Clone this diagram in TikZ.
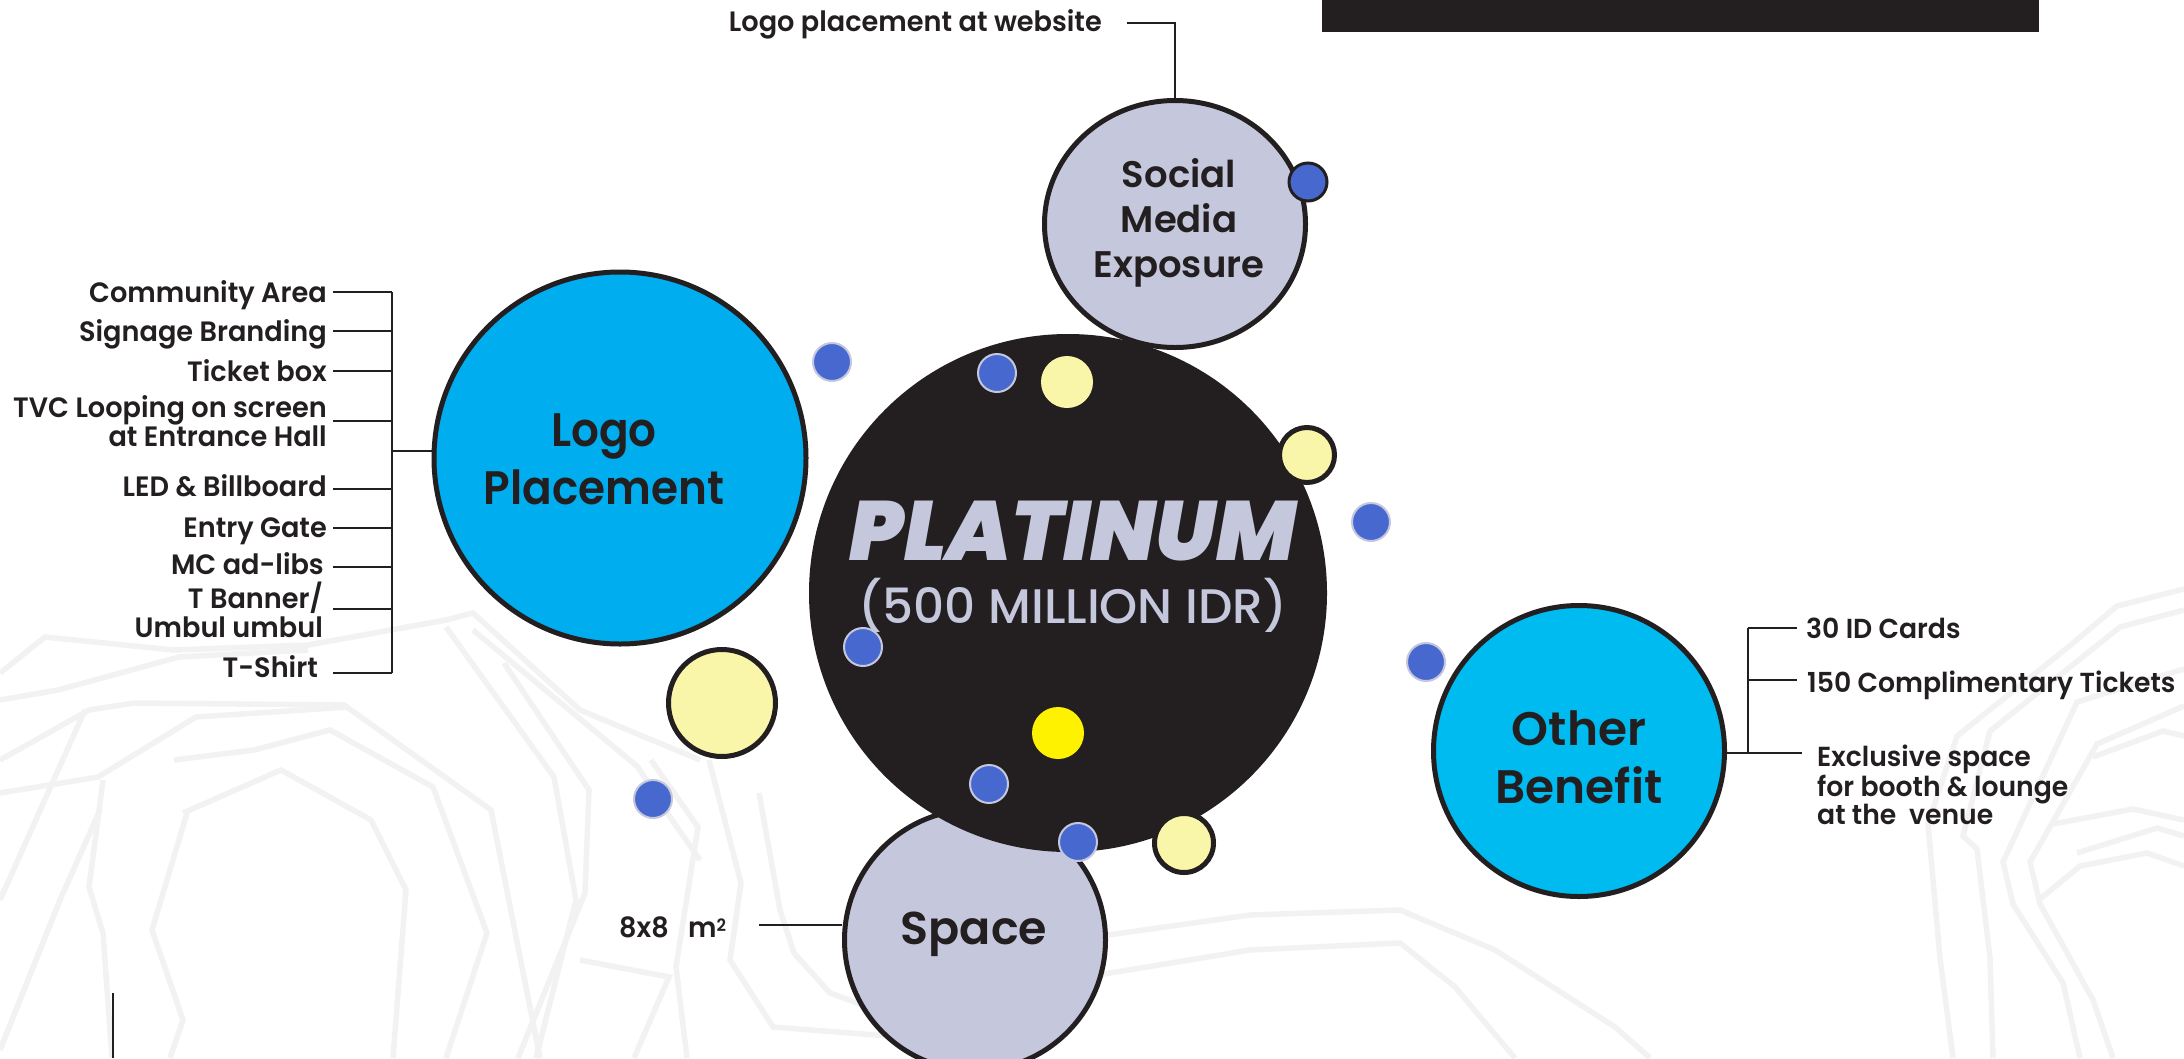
\documentclass[tikz,border=0pt]{standalone}
\usepackage{fontspec}
\setmainfont{Poppins}
\newfontfamily\lblfont{Poppins SemiBold}[FakeStretch=0.97]
\newfontfamily\ttlfont{Poppins SemiBold}
\newfontfamily\ttlnarrow{Poppins SemiBold}[FakeStretch=0.93]
\newfontfamily\midfont{Poppins Medium}
\newfontfamily\platfont{Poppins Black Italic}
\usetikzlibrary{shapes.geometric}
\definecolor{ink}{HTML}{231F20}
\definecolor{lav}{HTML}{C5C8DD}
\definecolor{cyanA}{HTML}{00ADEE}
\definecolor{cyanB}{HTML}{00BBF0}
\definecolor{dotblue}{HTML}{4769CF}
\definecolor{pale}{HTML}{F9F6A9}
\definecolor{brightY}{HTML}{FFF200}
\definecolor{bgline}{HTML}{F2F2F2}
\begin{document}
\begin{tikzpicture}[x=1pt,y=-1pt,
  big/.style={circle, draw=ink, line width=5pt, inner sep=0pt},
  bdot/.style={circle, fill=dotblue, draw=lav, line width=2pt, minimum size=38pt, inner sep=0pt},
  ydot/.style={circle, fill=pale, inner sep=0pt},
  ydotb/.style={circle, fill=pale, draw=ink, line width=5pt, inner sep=0pt},
  conn/.style={draw=ink, line width=2.8pt},
  lbl/.style={font=\lblfont\fontsize{28}{28.5}\selectfont, text=ink, inner sep=0pt},
  rlbl/.style={font=\lblfont\fontsize{27.5}{28.5}\selectfont, text=ink, inner sep=0pt},
  ttl/.style={text=ink, inner sep=0pt},
  bg/.style={draw=bgline, line width=5.5pt, line join=miter}
]
\useasboundingbox (0,0) rectangle (2184,1058);
\fill[white] (0,0) rectangle (2184,1058);
% background pattern
\draw[bg] (0,673) -- (45,637) -- (174,650) -- (308,645) -- (446,620) -- (473,613) -- (580,710) -- (700,760);
\draw[bg] (0,700) -- (58,690) -- (179,657) -- (308,650);
\draw[bg] (0,760) -- (89,710) -- (134,703) -- (344,705) -- (491,810) -- (540,1058);
\draw[bg] (174,760) -- (254,750) -- (330,730) -- (433,787) -- (487,933) -- (446,1058);
\draw[bg] (183,813) -- (281,770) -- (371,820) -- (406,890) -- (393,1058);
\draw[bg] (187,813) -- (152,930) -- (183,1020) -- (170,1058);
\draw[bg] (103,780) -- (89,887) -- (103,933) -- (112,1058);
\draw[bg] (0,793) -- (98,777) -- (196,717) -- (348,707);
\draw[bg] (0,900) -- (85,710);
\draw[bg] (0,1050) -- (60,900) -- (100,810);
\draw[bg] (446,627) -- (554,777) -- (576,900) -- (536,1058);
\draw[bg] (504,663) -- (589,790) -- (585,893) -- (518,1058);
\draw[bg] (473,630) -- (638,767) -- (670,817) -- (700,860);
\draw[bg] (709,760) -- (741,883) -- (730,960) -- (773,1027) -- (901,1037);
\draw[bg] (759,793) -- (780,910) -- (794,953) -- (830,993) -- (884,1013);
\draw[bg] (651,760) -- (698,827) -- (676,967) -- (687,1058);
\draw[bg] (580,960) -- (669,977) -- (634,1058);
\draw[bg] (1108,935) -- (1250,915) -- (1400,910) -- (1495,950) -- (1615,1027) -- (1650,1058);
\draw[bg] (1098,975) -- (1250,950) -- (1400,943) -- (1455,987) -- (1515,1058);
\draw[bg] (2184,589) -- (2117,606) -- (2067,648) -- (1957,736) -- (1928,824) -- (1940,958) -- (1953,1058);
\draw[bg] (2184,610) -- (2120,627) -- (1990,731) -- (1963,836) -- (1977,849) -- (1990,958) -- (1993,1058);
\draw[bg] (2184,669) -- (2077,702) -- (2003,862) -- (2013,904) -- (2063,983) -- (2080,1058);
\draw[bg] (2184,706) -- (2097,744) -- (2030,862) -- (2040,904) -- (2093,1000) -- (2113,1058);
\draw[bg] (2093,757) -- (2163,731) -- (2184,736);
\draw[bg] (2053,824) -- (2133,809) -- (2184,820);
\draw[bg] (2077,853) -- (2157,828) -- (2184,836);
\draw[bg] (2040,899) -- (2080,866) -- (2147,853) -- (2184,866);
% top bar and thin line
\fill[ink] (1322,0) rectangle (2039,32);
\draw[ink, line width=1.5pt] (113,993) -- (113,1058);
% circles
\node[big, fill=lav, minimum size=261pt] (space) at (975,940) {};
\node[big, fill=cyanA, minimum size=372pt] (logo) at (620,458) {};
\node[circle, fill=ink, minimum size=518pt, inner sep=0pt] (plat) at (1068,593) {};
\node[ellipse, draw=ink, line width=5pt, fill=lav, minimum width=261pt, minimum height=247pt, inner sep=0pt] (soc) at (1175,224) {};
\node[big, fill=cyanB, minimum size=291pt] (other) at (1579,751) {};
% small dots
\node[bdot, draw=ink, line width=3pt] (d1) at (1308,182) {};
\node[bdot] (d2) at (832,362) {};
\node[bdot] (d3) at (997,373) {};
\node[bdot] (d4) at (1371,522) {};
\node[bdot] (d5) at (863,647) {};
\node[bdot] (d6) at (1426,662) {};
\node[bdot] (d7) at (653,799) {};
\node[bdot] (d8) at (989,784) {};
\node[bdot] (d9) at (1078,842) {};
\node[ydot, minimum size=52pt] (y1) at (1067,382) {};
\node[ydotb, minimum size=55pt] (y2) at (1307,455) {};
\node[ydotb, minimum size=107pt] (y3) at (722,703) {};
\node[circle, fill=brightY, inner sep=0pt, minimum size=52pt] (y4) at (1058,733) {};
\node[ydotb, minimum size=59pt] (y5) at (1184,843) {};
% circle texts
\node[ttl, font=\platfont\fontsize{84}{84}\selectfont, text=lav, anchor=base] (platT) at (1073,560) {PLATINUM};
\node[ttl, font=\midfont\fontsize{48.5}{48.5}\selectfont, text=lav, anchor=base] (idrT) at (1073,623) {(500 MILLION IDR)};
\node[ttl, font=\ttlnarrow\fontsize{47}{58}\selectfont, anchor=base] (logoT) at (604,446) {\begin{tabular}[t]{@{}c@{}}Logo\\Placement\end{tabular}};
\node[ttl, font=\ttlfont\fontsize{37}{45}\selectfont, anchor=base] (socT) at (1179,187) {\begin{tabular}[t]{@{}c@{}}Social\\Media\\Exposure\end{tabular}};
\node[ttl, font=\ttlfont\fontsize{47}{58}\selectfont, anchor=base] (otherT) at (1579,745) {\begin{tabular}[t]{@{}c@{}}Other\\Benefit\end{tabular}};
\node[ttl, font=\ttlfont\fontsize{46}{46}\selectfont, anchor=base] (spaceT) at (974,944) {Space};
% social media connector
\node[lbl, anchor=base east] (web) at (1102,31) {Logo placement at website};
\coordinate (webS) at (1127,23);
\draw[conn] (webS) -| (soc.north);
% space connector
\node[lbl, anchor=base west] (sq) at (619,937) {8x8\ \ \ m\raisebox{6pt}{\fontsize{17}{17}\selectfont 2}};
\coordinate (sqS) at (759,925);
\draw[conn] (sqS) -- (sqS -| space.west);
% logo placement list
\coordinate (bar) at (392,451);
\draw[conn] (392,292) -- (392,673);
\draw[conn] (bar) -- (bar -| logo.west);
\foreach \n/\yy in {1/292,2/331,3/371,4/421,5/489,6/528,7/567,8/609,9/673}{
  \coordinate (s\n) at (333,\yy);
  \draw[conn] (s\n) -- (s\n -| bar);
}
\node[lbl, anchor=base east] (l1) at (327,302) {Community Area};
\node[lbl, anchor=base east] (l2) at (327,341) {Signage Branding};
\node[lbl, anchor=base east] (l3) at (327,381) {Ticket box};
\node[lbl, anchor=base east] (l4) at (327,417) {\begin{tabular}[t]{@{}r@{}}TVC Looping on screen\\at Entrance Hall\end{tabular}};
\node[lbl, anchor=base east] (l5) at (327,496) {LED \& Billboard};
\node[lbl, anchor=base east] (l6) at (327,537) {Entry Gate};
\node[lbl, anchor=base east] (l7) at (324,574) {MC ad-libs};
\node[lbl, anchor=base east] (l8) at (323,608) {\begin{tabular}[t]{@{}r@{}}T Banner/\\Umbul umbul\end{tabular}};
\node[lbl, anchor=base east] (l9) at (318,677) {T-Shirt};
% other benefit list
\coordinate (rbar) at (1748,753);
\draw[conn] (1748,628) -- (rbar);
\draw[conn] (rbar -| other.east) -- (1802,753);
\coordinate (r1) at (1797,628);
\coordinate (r2) at (1797,680);
\draw[conn] (r1 -| rbar) -- (r1);
\draw[conn] (r2 -| rbar) -- (r2);
\node[rlbl, anchor=base west] (o1) at (1806,638) {30 ID Cards};
\node[rlbl, anchor=base west] (o2) at (1807,692) {150 Complimentary Tickets};
\node[rlbl, anchor=base west] (o3) at (1817,766) {\begin{tabular}[t]{@{}l@{}}Exclusive space\\for booth \& lounge\\at the\ \ venue\end{tabular}};
\end{tikzpicture}
\end{document}
